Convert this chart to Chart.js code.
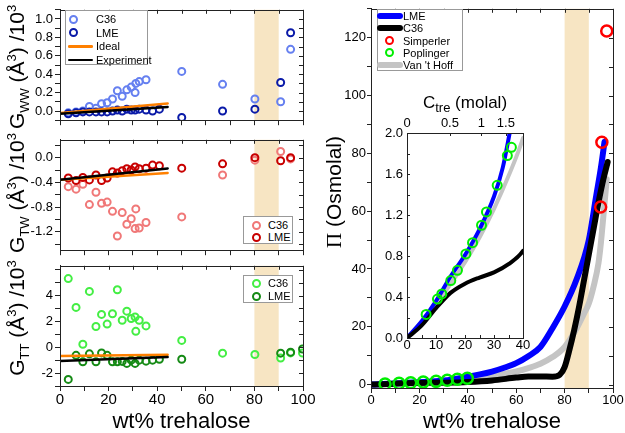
<!DOCTYPE html>
<html>
<head>
<meta charset="utf-8">
<script src="https://cdn.jsdelivr.net/npm/chart.js@4.4.1/dist/chart.umd.min.js"></script>
<style>
  body { margin: 0; background: #fff; }
  #wrap { position: relative; width: 625px; height: 433px; overflow: hidden; background: #fff;
          font-family: 'Liberation Sans', Arial, sans-serif; color: #000; }
  #wrap canvas { position: absolute; }
  .ylab { position: absolute; transform: translate(-50%, -50%) rotate(-90deg); white-space: nowrap;
          font-size: 21px; line-height: 1; }
  .ylab sub, .ylab sup, .clab sub { font-size: 13px; line-height: 0; }
  .clab { position: absolute; transform: translate(-50%, -50%); white-space: nowrap; font-size: 17px; line-height: 1; }
  .pi { font-family: 'Liberation Serif', 'Times New Roman', serif; }
  .leg { position: absolute; border: 1px solid #999; background: #fff; box-sizing: border-box; font-size: 11px; }
  .leg span { position: absolute; }
  .leg .dot { width: 5px; height: 5px; border: 2px solid; border-radius: 50%; }
  .leg .lt { line-height: 14px; white-space: nowrap; }
</style>
</head>
<body>
<div id="wrap">
  <canvas id="cWW" width="320" height="130" style="left:0;top:0"></canvas>
  <canvas id="cTW" width="320" height="130" style="left:0;top:130px"></canvas>
  <canvas id="cTT" width="320" height="177" style="left:0;top:256px"></canvas>
  <canvas id="cPi" width="305" height="433" style="left:320px;top:0"></canvas>
  <canvas id="cInset" width="167" height="262" style="left:368px;top:100px"></canvas>

  <div class="ylab" style="left:16px;top:67px">G<sub>WW</sub> (Å<sup>3</sup>) /10<sup>3</sup></div>
  <div class="ylab" style="left:16px;top:193px">G<sub>TW</sub> (Å<sup>3</sup>) /10<sup>3</sup></div>
  <div class="ylab" style="left:16px;top:318px">G<sub>TT</sub> (Å<sup>3</sup>) /10<sup>3</sup></div>
  <div class="ylab" style="left:334px;top:192px"><span class="pi">Π</span> (Osmolal)</div>
  <div class="clab" style="left:465px;top:102px">C<sub>tre</sub> (molal)</div>
</div>

<script>
// wt% trehalose of the simulated samples
const wtC36 = [3.4, 6.6, 9.4, 12.1, 14.8, 17.1, 19.4, 21.6, 23.6, 25.6, 27.5, 29.3, 30.9, 31.2, 32.6, 35.4, 50.1, 66.9, 80.2, 90.8, 94.9, 99.8];
const wtLME = [3.4, 6.6, 9.4, 12.1, 14.8, 17.1, 19.4, 21.6, 23.6, 25.6, 27.5, 29.3, 30.9, 32.6, 35.4, 38.1, 40.9, 50.1, 66.9, 80.2, 90.8, 94.9, 99.8];

// Kirkwood-Buff integrals /10^3
const gwwC36 = [-0.02, -0.01, 0.00, 0.05, 0.03, 0.08, 0.09, 0.13, 0.22, 0.16, 0.23, 0.26, 0.20, 0.30, 0.32, 0.34, 0.43, 0.29, 0.13, 0.10, 0.67, null];
const gwwLME = [-0.03, -0.02, -0.01, -0.01, -0.01, -0.01, -0.01, 0.00, 0.01, 0.00, 0.02, 0.01, 0.01, 0.02, 0.01, 0.00, 0.02, -0.07, 0.00, 0.02, 0.31, 0.85, null];
const gtwC36 = [-0.47, -0.51, -0.43, -0.76, -0.56, -0.74, -0.72, -0.87, -1.27, -0.89, -1.08, -0.99, -1.15, -0.83, -1.14, -1.05, -0.96, -0.28, -0.04, 0.10, -0.02, null];
const gtwLME = [-0.33, -0.37, -0.32, -0.36, -0.28, -0.37, -0.33, -0.23, -0.25, -0.21, -0.18, -0.20, -0.15, -0.18, -0.17, -0.12, -0.13, -0.17, -0.10, 0.00, -0.05, 0.00, null];
const gttC36 = [5.31, 3.08, 0.23, 4.32, 1.60, 2.54, 1.79, 2.59, 4.45, 2.09, 2.79, 2.22, 2.34, 1.23, 2.09, 1.65, 0.53, -0.46, -0.56, -0.83, -0.44, -0.45];
const gttLME = [-2.49, -0.63, -1.13, -0.51, -1.13, -0.44, -0.63, -1.13, -1.13, -1.10, -1.25, -1.00, -1.25, -1.00, -1.08, -1.00, -0.93, -0.93, null, null, -0.46, -0.38, -0.14];

// ideal / experiment lines (end points)
const lineW = [0, 44.3];
const idealWW = [-0.023, 0.082], expWW = [-0.03, 0.043];
const idealTW = [-0.357, -0.248], expTW = [-0.357, -0.174];
const idealTT = [-0.68, -0.58], expTT = [-1.06, -0.76];

// osmotic pressure curves
const piWLME = [0, 5, 10, 15, 20, 25, 30, 33, 35.4, 40, 45, 50, 55, 60, 65, 70, 75, 80, 85, 90, 93, 95, 96.5];
const piLME = [0, 0.16, 0.36, 0.6, 0.81, 1.06, 1.38, 1.66, 2.0, 2.7, 3.5, 4.5, 5.8, 7.4, 9.8, 13, 19.5, 27, 36.5, 50, 65, 75, 84];
const piWC36 = [0, 5, 10, 15, 20, 25, 30, 35, 40, 50, 60, 65, 70, 75, 78, 80, 82, 84, 86, 88, 90, 92, 94, 96, 97.8];
const piC36 = [0, 0.12, 0.29, 0.44, 0.53, 0.59, 0.64, 0.72, 0.85, 1.4, 2.4, 2.8, 2.8, 2.7, 3.4, 6, 12, 19, 27, 36, 45, 54, 63, 71, 77];
const piWVH = [0, 10, 20, 25, 30, 35, 40, 50, 60, 65, 70, 75, 80, 85, 88, 90, 92, 94, 95, 96, 97.4];
const piVH = [0, 0.33, 0.74, 0.98, 1.26, 1.58, 1.95, 3, 4.5, 5.7, 7.2, 9.5, 13, 19.5, 24.5, 28, 34, 42, 49, 58, 71];

const simW = [94.9, 95.4, 97.4];
const simP = [61.4, 83.8, 122.3];
const popMainW = [5.8, 11.6, 16.4, 21.6, 26.9, 31.5, 35.7, 39.8];
const popMainP = [0.2, 0.45, 0.65, 0.85, 1.1, 1.45, 1.8, 2.2];
const popInsetW = [6.6, 10.5, 12.0, 15.1, 17.4, 20.3, 22.6, 25.7, 27.4, 31.1, 34.6, 36.0];
const popInsetP = [0.23, 0.38, 0.43, 0.56, 0.66, 0.82, 0.93, 1.10, 1.23, 1.49, 1.78, 1.86];

// tick labels
const wtTicks = [0, 20, 40, 60, 80, 100];
const wwTicks = [0, 0.2, 0.4, 0.6, 0.8, 1.0];
const twTicks = [-1.2, -0.8, -0.4, 0];
const ttTicks = [-2, 0, 2, 4];
const piTicks = [0, 20, 40, 60, 80, 100, 120];
const insetYTicks = [0, 0.4, 0.8, 1.2, 1.6, 2.0];
const insetXTicks = [0, 10, 20, 30, 40];
const molalLabels = ['0', '0.5', '1', '1.5'];
const molalPos = [0, 14.8, 25.6, 34.1];

const bandRange = [80, 90];

const bandColor = '#f7e5c3';
const axisColor = '#222';
Chart.defaults.font.family = "'Liberation Sans', Arial, sans-serif";
Chart.defaults.color = '#000';

const pts = (xs, ys) => xs.map((x, i) => ({ x: x, y: ys[i] }));
const labelIf = (list, fmt) => v => list.some(t => Math.abs(t - v) < 1e-6) ? fmt(v) : '';

// shaded 80-90 wt% band
const bandPlugin = {
    id: 'band',
    beforeDatasetsDraw(chart, args, opts) {
        if (!opts.range) return;
        const { ctx, chartArea: a, scales: { x } } = chart;
        const x0 = x.getPixelForValue(opts.range[0]);
        const x1 = x.getPixelForValue(opts.range[1]);
        ctx.save();
        ctx.fillStyle = opts.color;
        ctx.fillRect(x0, a.top, x1 - x0, a.bottom - a.top);
        ctx.restore();
    }
};

// white plot background (inset)
const bgPlugin = {
    id: 'bg',
    beforeDraw(chart, args, opts) {
        if (!opts.color) return;
        const { ctx, chartArea: a } = chart;
        ctx.save();
        ctx.fillStyle = opts.color;
        ctx.fillRect(a.left, a.top, a.right - a.left, a.bottom - a.top);
        ctx.restore();
    }
};

// box around the plot with inward ticks
const framePlugin = {
    id: 'frame',
    afterDatasetsDraw(chart, args, opts) {
        const { ctx, chartArea: a } = chart;
        const len = opts.len || 4;
        ctx.save();
        ctx.strokeStyle = axisColor;
        ctx.lineWidth = 1;
        ctx.strokeRect(Math.round(a.left) + 0.5, Math.round(a.top) + 0.5,
                       Math.round(a.right - a.left), Math.round(a.bottom - a.top));
        (opts.sides || []).forEach(([side, id]) => {
            const sc = chart.scales[id];
            sc.ticks.forEach(t => {
                const p = Math.round(sc.getPixelForValue(t.value)) + 0.5;
                ctx.beginPath();
                if (side === 'right') { ctx.moveTo(a.right, p); ctx.lineTo(a.right - len, p); }
                if (side === 'left') { ctx.moveTo(a.left, p); ctx.lineTo(a.left + len, p); }
                if (side === 'top') { ctx.moveTo(p, a.top); ctx.lineTo(p, a.top + len); }
                if (side === 'bottom') { ctx.moveTo(p, a.bottom); ctx.lineTo(p, a.bottom - len); }
                ctx.stroke();
            });
        });
        ctx.restore();
    }
};

function scatterSet(label, xs, ys, color, r, bw) {
    return { label: label, data: pts(xs, ys), showLine: false, pointRadius: r || 3.5,
             pointBorderWidth: bw || 2, pointBorderColor: color, pointBackgroundColor: 'rgba(0,0,0,0)' };
}

function lineSet(label, xs, ys, color, w, clip) {
    const ds = { label: label, data: pts(xs, ys), showLine: true, borderColor: color, borderWidth: w,
                 pointRadius: 0, fill: false, cubicInterpolationMode: 'monotone', borderCapStyle: 'round' };
    if (clip !== undefined) ds.clip = clip;
    return ds;
}

function baseOptions(padding, plugins) {
    return {
        responsive: false, animation: false, devicePixelRatio: 1, events: [],
        layout: { padding: padding },
        plugins: Object.assign({ legend: { display: false }, tooltip: { enabled: false } }, plugins)
    };
}

// one of the three G panels on the left
function createLeftPanel(id, datasets, y, opt) {
    const options = baseOptions({ top: opt.padTop, right: 17, left: 0, bottom: 0 }, {
        band: { range: bandRange, color: bandColor },
        frame: { sides: [['right', 'y'], ['top', 'x']] }
    });
    options.scales = {
        x: {
            type: 'linear', min: 0, max: 100,
            afterFit: s => { s.height = opt.xHeight; },
            ticks: { stepSize: 10, display: opt.showX, autoSkip: false, maxRotation: 0, padding: 0,
                     font: { size: 15 }, callback: labelIf(wtTicks, v => String(v)) },
            grid: { drawOnChartArea: false, tickLength: 5, color: axisColor },
            border: { color: axisColor },
            title: { display: opt.showX, text: 'wt% trehalose', font: { size: 22, lineHeight: 1 },
                     padding: { top: 0, bottom: 0 } }
        },
        y: {
            min: y.min, max: y.max,
            afterFit: s => { s.width = 60; },
            ticks: { stepSize: y.step, includeBounds: false, autoSkip: false, padding: 2,
                     font: { size: 13 }, callback: labelIf(y.ticks, y.fmt) },
            grid: { drawOnChartArea: false, tickLength: 5, color: axisColor },
            border: { color: axisColor }
        }
    };
    return new Chart(document.getElementById(id), {
        type: 'scatter', data: { datasets: datasets }, options: options,
        plugins: [bandPlugin, framePlugin]
    });
}

function createPiChart() {
    const options = baseOptions({ top: 4, right: 12, left: 0, bottom: 0 }, {
        band: { range: bandRange, color: bandColor },
        frame: { sides: [['right', 'y'], ['top', 'x']] }
    });
    options.scales = {
        x: {
            type: 'linear', min: 0, max: 100,
            afterFit: s => { s.height = 45; },
            ticks: { stepSize: 10, autoSkip: false, maxRotation: 0, padding: 0, font: { size: 13 },
                     callback: labelIf(wtTicks, v => String(v)) },
            grid: { drawOnChartArea: false, tickLength: 5, color: axisColor },
            border: { color: axisColor },
            title: { display: true, text: 'wt% trehalose', font: { size: 22, lineHeight: 1 },
                     padding: { top: 0, bottom: 0 } }
        },
        y: {
            min: -1.2, max: 130,
            afterFit: s => { s.width = 51; },
            ticks: { stepSize: 10, includeBounds: false, autoSkip: false, padding: 1, font: { size: 13 },
                     callback: labelIf(piTicks, v => String(v)) },
            grid: { drawOnChartArea: false, tickLength: 4, color: axisColor },
            border: { color: axisColor }
        }
    };
    return new Chart(document.getElementById('cPi'), {
        type: 'scatter',
        data: { datasets: [
            scatterSet('Poplinger', popMainW, popMainP, '#00ee00', 5.5, 2.5),
            scatterSet('Simperler', simW, simP, '#ff0000', 5.5, 2.5),
            lineSet('C36', piWC36, piC36, '#000', 6),
            lineSet('LME', piWLME, piLME, '#0000ff', 6),
            lineSet("Van 't Hoff", piWVH, piVH, '#c4c4c4', 6)
        ] },
        options: options,
        plugins: [bandPlugin, framePlugin]
    });
}

function createInset() {
    const options = baseOptions({ top: 8, right: 12, left: 0, bottom: 0 }, {
        bg: { color: '#fff' },
        frame: { len: 3, sides: [['left', 'y'], ['bottom', 'x'], ['top', 'xTop']] }
    });
    options.scales = {
        x: {
            type: 'linear', min: 0, max: 40,
            afterFit: s => { s.height = 24; },
            ticks: { stepSize: 5, autoSkip: false, maxRotation: 0, padding: 0, font: { size: 13 },
                     callback: labelIf(insetXTicks, v => String(v)) },
            grid: { drawOnChartArea: false, drawTicks: false, color: axisColor },
            border: { color: axisColor }
        },
        xTop: {
            type: 'linear', position: 'top', min: 0, max: 40,
            afterFit: s => { s.height = 25; },
            afterBuildTicks: s => { s.ticks = molalPos.map(v => ({ value: v })); },
            ticks: { autoSkip: false, maxRotation: 0, padding: 2, font: { size: 13 },
                     callback: (v, i) => molalLabels[i] },
            grid: { drawOnChartArea: false, drawTicks: false, color: axisColor },
            border: { color: axisColor }
        },
        y: {
            min: 0, max: 2.0,
            afterFit: s => { s.width = 39; },
            ticks: { stepSize: 0.2, autoSkip: false, padding: 4, font: { size: 13 },
                     callback: labelIf(insetYTicks, v => v.toFixed(1)) },
            grid: { drawOnChartArea: false, drawTicks: false, color: axisColor },
            border: { color: axisColor }
        }
    };
    return new Chart(document.getElementById('cInset'), {
        type: 'scatter',
        data: { datasets: [
            scatterSet('Poplinger', popInsetW, popInsetP, '#00ee00', 4.5, 2),
            lineSet('C36', piWC36, piC36, '#000', 4, 0),
            lineSet('LME', piWLME, piLME, '#0000ff', 4, 0),
            lineSet("Van 't Hoff", piWVH, piVH, '#c4c4c4', 4, 0)
        ] },
        options: options,
        plugins: [bgPlugin, framePlugin]
    });
}

// html legends
function addLegend(opt) {
    const box = document.createElement('div');
    box.className = 'leg';
    Object.assign(box.style, { left: opt.left + 'px', top: opt.top + 'px', width: opt.width + 'px', height: opt.height + 'px' });
    opt.items.forEach((it, i) => {
        const cy = opt.firstY + i * opt.gap;
        const sym = document.createElement('span');
        if (it.type === 'circle') {
            sym.className = 'dot';
            Object.assign(sym.style, { left: (opt.dotX - 4.5) + 'px', top: (cy - 4.5) + 'px', borderColor: it.color });
        } else {
            Object.assign(sym.style, { left: opt.lineX0 + 'px', width: (opt.lineX1 - opt.lineX0) + 'px',
                top: (cy - it.w / 2) + 'px', height: it.w + 'px', background: it.color, borderRadius: (it.w / 2) + 'px' });
        }
        const txt = document.createElement('span');
        txt.className = 'lt';
        txt.textContent = it.label;
        Object.assign(txt.style, { left: opt.textX + 'px', top: (cy - 7) + 'px' });
        box.appendChild(sym);
        box.appendChild(txt);
    });
    document.getElementById('wrap').appendChild(box);
}

createLeftPanel('cWW', [
    lineSet('Experiment', lineW, expWW, '#000', 2.5),
    lineSet('Ideal', lineW, idealWW, '#ff8000', 2.5),
    scatterSet('LME', wtLME, gwwLME, '#0a1aa8'),
    scatterSet('C36', wtC36, gwwC36, '#6680f0')
], { min: -0.1, max: 1.1, step: 0.1, ticks: wwTicks, fmt: v => v.toFixed(1) },
   { padTop: 5, xHeight: 4, showX: false });

createLeftPanel('cTW', [
    lineSet('Experiment', lineW, expTW, '#000', 2.5),
    lineSet('Ideal', lineW, idealTW, '#ff8000', 2.5),
    scatterSet('LME', wtLME, gtwLME, '#c80000'),
    scatterSet('C36', wtC36, gtwC36, '#f07878')
], { min: -1.5, max: 0.29, step: 0.2, ticks: twTicks, fmt: v => v.toFixed(1) },
   { padTop: 5, xHeight: 4, showX: false });

createLeftPanel('cTT', [
    lineSet('Experiment', lineW, expTT, '#000', 2.5),
    lineSet('Ideal', lineW, idealTT, '#ff8000', 2.5),
    scatterSet('LME', wtLME, gttLME, '#158a15'),
    scatterSet('C36', wtC36, gttC36, '#44ee44')
], { min: -3, max: 6.3, step: 1, ticks: ttTicks, fmt: v => String(v) },
   { padTop: 4, xHeight: 47, showX: true });

createPiChart();
createInset();

addLegend({ left: 65, top: 10, width: 83, height: 55, firstY: 8, gap: 13.7, dotX: 7, lineX0: 2, lineX1: 27, textX: 30,
    items: [
        { label: 'C36', type: 'circle', color: '#6680f0' },
        { label: 'LME', type: 'circle', color: '#0a1aa8' },
        { label: 'Ideal', type: 'line', color: '#ff8000', w: 2.5 },
        { label: 'Experiment', type: 'line', color: '#000', w: 2.5 }
    ] });
addLegend({ left: 243, top: 216, width: 50, height: 28, firstY: 8, gap: 12, dotX: 12, textX: 24,
    items: [
        { label: 'C36', type: 'circle', color: '#f07878' },
        { label: 'LME', type: 'circle', color: '#c80000' }
    ] });
addLegend({ left: 243, top: 275, width: 50, height: 28, firstY: 7, gap: 13, dotX: 12, textX: 24,
    items: [
        { label: 'C36', type: 'circle', color: '#44ee44' },
        { label: 'LME', type: 'circle', color: '#158a15' }
    ] });
addLegend({ left: 377, top: 9, width: 86, height: 62, firstY: 6, gap: 12.3, dotX: 11, lineX0: -1, lineX1: 25, textX: 25,
    items: [
        { label: 'LME', type: 'line', color: '#0000ff', w: 6 },
        { label: 'C36', type: 'line', color: '#000', w: 6 },
        { label: 'Simperler', type: 'circle', color: '#ff0000' },
        { label: 'Poplinger', type: 'circle', color: '#00ee00' },
        { label: "Van 't Hoff", type: 'line', color: '#c4c4c4', w: 6 }
    ] });
</script>
</body>
</html>
